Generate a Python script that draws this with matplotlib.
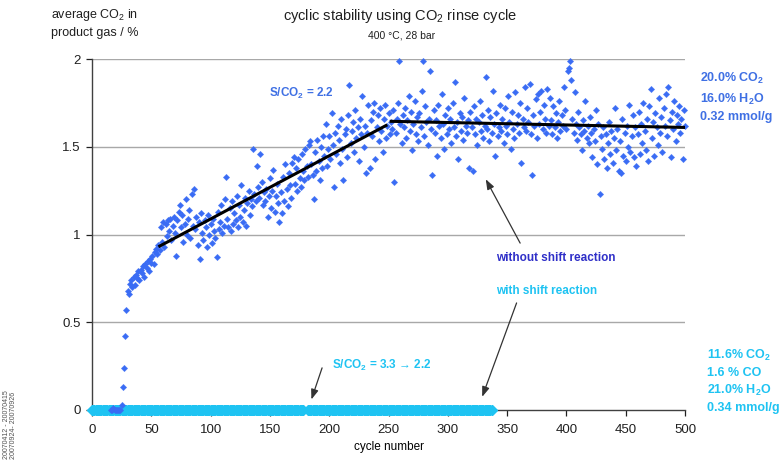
import numpy as np
import matplotlib
matplotlib.use("Agg")
import matplotlib.pyplot as plt

plt.rcParams["font.family"] = ["Liberation Sans", "DejaVu Sans"]
plt.rcParams["mathtext.fontset"] = "custom"
plt.rcParams["mathtext.rm"] = "Liberation Sans"
plt.rcParams["mathtext.bf"] = "Liberation Sans:bold"
plt.rcParams["mathtext.default"] = "regular"

# --- data -----------------------------------------------------------------
# average CO2 in product gas, run without shift reaction (cycle 16 onward)
no_shift_start = 16
no_shift_values = [
    0.00, 0.00, 0.01, 0.00, 0.00, 0.00, 0.00, 0.00, 0.00, 0.03,
    0.13, 0.24, 0.42, 0.57, 0.68, 0.66, 0.72, 0.74, 0.70, 0.76,
    0.71, 0.77, 0.75, 0.79, 0.74, 0.80, 0.78, 0.82, 0.76, 0.83,
    0.81, 0.85, 0.79, 0.86, 0.84, 0.88, 0.83, 0.90, 0.92, 0.89,
    0.94, 0.91, 1.04, 0.96, 1.07, 0.93, 1.06, 0.99, 1.08, 1.02,
    1.09, 0.97, 1.05, 1.10, 1.01, 0.88, 1.08, 1.13, 1.17, 1.04,
    1.11, 0.96, 1.06, 1.20, 1.00, 1.09, 1.14, 0.98, 1.23, 1.05,
    1.26, 1.03, 1.10, 0.94, 1.07, 0.86, 1.12, 1.01, 0.97, 1.08,
    1.04, 0.93, 1.11, 1.00, 1.06, 0.95, 1.09, 1.02, 0.98, 0.87,
    1.13, 1.03, 1.07, 1.17, 1.01, 1.05, 1.20, 1.33, 1.09, 1.04,
    1.15, 1.02, 1.19, 1.06, 1.12, 1.08, 1.22, 1.04, 1.17, 1.10,
    1.28, 1.07, 1.14, 1.21, 1.05, 1.18, 1.25, 1.11, 1.20, 1.16,
    1.49, 1.23, 1.19, 1.39, 1.27, 1.21, 1.46, 1.30, 1.17, 1.24,
    1.19, 1.26, 1.10, 1.22, 1.32, 1.15, 1.25, 1.37, 1.13, 1.22,
    1.29, 1.18, 1.07, 1.24, 1.12, 1.33, 1.19, 1.40, 1.26, 1.16,
    1.35, 1.28, 1.21, 1.41, 1.44, 1.29, 1.38, 1.25, 1.43, 1.32,
    1.27, 1.46, 1.36, 1.31, 1.49, 1.39, 1.33, 1.51, 1.53, 1.40,
    1.34, 1.20, 1.47, 1.36, 1.54, 1.42, 1.31, 1.50, 1.38, 1.56,
    1.45, 1.63, 1.39, 1.49, 1.56, 1.43, 1.69, 1.51, 1.27, 1.58,
    1.46, 1.62, 1.54, 1.41, 1.66, 1.49, 1.31, 1.57, 1.60, 1.44,
    1.68, 1.85, 1.52, 1.59, 1.64, 1.47, 1.71, 1.55, 1.61, 1.42,
    1.66, 1.57, 1.79, 1.50, 1.62, 1.35, 1.58, 1.74, 1.38, 1.65,
    1.56, 1.70, 1.75, 1.43, 1.61, 1.68, 1.53, 1.72, 1.59, 1.47,
    1.66, 1.74, 1.55, 1.62, 1.69, 1.57, 1.64, 1.60, 1.71, 1.30,
    1.58, 1.66, 1.75, 1.99, 1.63, 1.52, 1.68, 1.61, 1.72, 1.55,
    1.65, 1.79, 1.59, 1.70, 1.48, 1.63, 1.76, 1.57, 1.67, 1.53,
    1.69, 1.61, 1.82, 1.99, 1.56, 1.73, 1.64, 1.51, 1.66, 1.93,
    1.60, 1.34, 1.71, 1.58, 1.65, 1.45, 1.74, 1.62, 1.55, 1.80,
    1.63, 1.49, 1.68, 1.57, 1.72, 1.60, 1.66, 1.52, 1.75, 1.61,
    1.87, 1.56, 1.64, 1.43, 1.69, 1.59, 1.67, 1.54, 1.78, 1.62,
    1.58, 1.65, 1.38, 1.70, 1.61, 1.36, 1.73, 1.57, 1.66, 1.51,
    1.64, 1.76, 1.59, 1.68, 1.55, 1.62, 1.90, 1.60, 1.71, 1.53,
    1.67, 1.58, 1.82, 1.63, 1.45, 1.69, 1.56, 1.61, 1.74, 1.59,
    1.66, 1.52, 1.72, 1.62, 1.57, 1.79, 1.64, 1.49, 1.70, 1.60,
    1.55, 1.81, 1.63, 1.68, 1.58, 1.75, 1.41, 1.66, 1.61, 1.84,
    1.59, 1.72, 1.64, 1.86, 1.57, 1.34, 1.68, 1.62, 1.77, 1.55,
    1.80, 1.63, 1.70, 1.82, 1.60, 1.74, 1.66, 1.58, 1.83, 1.62,
    1.78, 1.65, 1.57, 1.73, 1.61, 1.69, 1.55, 1.64, 1.76, 1.59,
    1.68, 1.62, 1.84, 1.71, 1.60, 1.93, 1.95, 1.99, 1.88, 1.66,
    1.58, 1.81, 1.63, 1.54, 1.70, 1.61, 1.57, 1.48, 1.65, 1.59,
    1.76, 1.55, 1.62, 1.52, 1.67, 1.58, 1.44, 1.60, 1.53, 1.71,
    1.40, 1.63, 1.23, 1.56, 1.49, 1.61, 1.43, 1.57, 1.38, 1.52,
    1.64, 1.46, 1.59, 1.41, 1.55, 1.72, 1.48, 1.60, 1.36, 1.53,
    1.35, 1.66, 1.45, 1.58, 1.42, 1.62, 1.50, 1.74, 1.47, 1.56,
    1.68, 1.44, 1.61, 1.39, 1.57, 1.70, 1.46, 1.63, 1.52, 1.75,
    1.59, 1.48, 1.66, 1.42, 1.73, 1.83, 1.55, 1.64, 1.45, 1.69,
    1.61, 1.51, 1.78, 1.58, 1.67, 1.47, 1.72, 1.62, 1.80, 1.56,
    1.84, 1.65, 1.44, 1.70, 1.60, 1.76, 1.53, 1.68, 1.63, 1.73,
    1.58, 1.66, 1.43, 1.71, 1.62,
]
no_shift_cycles = np.arange(no_shift_start, no_shift_start + len(no_shift_values))

# run with shift reaction: CO2 stays at zero, two measurement campaigns
shift_cycles = np.concatenate([np.arange(0, 179), np.arange(182, 338)])
shift_values = np.zeros(len(shift_cycles))

# linear trend lines drawn through the no-shift data
trend_rise_x = [56, 249]
trend_rise_y = [0.93, 1.625]
trend_flat_x = [251, 500]
trend_flat_y = [1.645, 1.61]

x_ticks = list(range(0, 501, 50))
y_ticks = [0, 0.5, 1, 1.5, 2]
y_tick_labels = ["0", "0.5", "1", "1.5", "2"]

# --- colours ----------------------------------------------------------------
BLUE = "#3a6cf4"
DARK_BLUE = "#2f2fc8"
CYAN = "#1ec3f2"
LABEL_BLUE = "#3f70e4"

# --- figure -----------------------------------------------------------------
fig = plt.figure(figsize=(7.82, 4.68), dpi=100)
ax = fig.add_axes([92 / 782, 1 - 410 / 468, 593 / 782, 351 / 468])

ax.set_xlim(0, 500)
ax.set_ylim(0, 2)

for y in y_ticks[1:]:
    ax.axhline(y, color="#a8a8a8", lw=1.0, zorder=1)

ax.plot(shift_cycles, shift_values, ls="none", marker="D", ms=5.2,
        mfc=CYAN, mec=CYAN, clip_on=False, zorder=3)
ax.plot(no_shift_cycles, no_shift_values, ls="none", marker="D", ms=3.3,
        mfc=BLUE, mec=BLUE, mew=0.2, clip_on=False, zorder=4)

ax.plot(trend_rise_x, trend_rise_y, color="black", lw=2.2, zorder=5,
        solid_capstyle="butt")
ax.plot(trend_flat_x, trend_flat_y, color="black", lw=2.2, zorder=5,
        solid_capstyle="butt")

for side in ("top", "right"):
    ax.spines[side].set_visible(False)
for side in ("left", "bottom"):
    ax.spines[side].set_color("#404040")
    ax.spines[side].set_linewidth(1.0)
    ax.spines[side].set_zorder(2)

ax.set_xticks(x_ticks)
ax.set_yticks(y_ticks)
ax.set_yticklabels(y_tick_labels)
ax.tick_params(axis="both", labelsize=9.5, colors="#202020", length=4,
               width=0.9, direction="out", pad=4)
ax.tick_params(axis="x", pad=6)
ax.set_xlabel("cycle number", fontsize=8.5, labelpad=4)

# titles and axis caption
fig.text(400 / 782, 1 - 16 / 468, "cyclic stability using CO$_2$ rinse cycle",
         ha="center", va="center", fontsize=10.5, color="#202020")
fig.text(402 / 782, 1 - 36 / 468, "400 °C, 28 bar",
         ha="center", va="center", fontsize=7.5, color="#202020")
fig.text(51 / 782, 1 - 23 / 468, "average CO$_2$ in\nproduct gas / %",
         ha="left", va="center", fontsize=9, color="#202020",
         linespacing=1.5)

# in-plot annotations
ax.text(149, 1.806, "S/CO$_2$ = 2.2", color=LABEL_BLUE,
        fontsize=8.5, fontweight="bold", ha="left", va="center")
ax.text(202, 0.256, "S/CO$_2$ = 3.3 → 2.2", color=CYAN,
        fontsize=8.5, fontweight="bold", ha="left", va="center")
ax.text(341, 0.866, "without shift reaction", color=DARK_BLUE,
        fontsize=8.5, fontweight="bold", ha="left", va="center")
ax.text(341, 0.68, "with shift reaction", color=CYAN,
        fontsize=8.5, fontweight="bold", ha="left", va="center")

arrow = dict(arrowstyle="-|>,head_length=0.6,head_width=0.22",
             color="#333333", lw=0.9, shrinkA=0, shrinkB=0)
ax.annotate("", xy=(332, 1.315), xytext=(361, 0.951), arrowprops=arrow)
ax.annotate("", xy=(329, 0.075), xytext=(358, 0.61), arrowprops=arrow)
ax.annotate("", xy=(185, 0.06), xytext=(194, 0.24), arrowprops=arrow)

# feed conditions next to the plot
fig.text(700 / 782, 1 - 97 / 468,
         "20.0% CO$_2$\n16.0% H$_2$O\n0.32 mmol/g",
         color=LABEL_BLUE, fontsize=9, fontweight="bold",
         ha="left", va="center", linespacing=1.45)
fig.text(707 / 782, 1 - 381 / 468,
         "11.6% CO$_2$\n1.6 % CO\n21.0% H$_2$O\n0.34 mmol/g",
         color=CYAN, fontsize=9, fontweight="bold",
         ha="left", va="center", linespacing=1.4)

# measurement dates
fig.text(10 / 782, 1 - 425 / 468, "20070412 - 20070415\n20070924- 20070926",
         rotation=90, fontsize=5, color="#505050", ha="center", va="center",
         linespacing=1.1)

fig.savefig("out.png", dpi=100)
